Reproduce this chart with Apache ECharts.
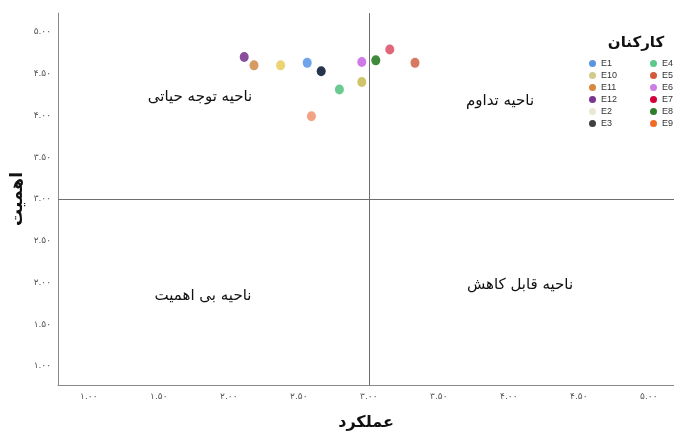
<!DOCTYPE html>
<html><head><meta charset="utf-8">
<script src="https://cdn.jsdelivr.net/npm/echarts@6/dist/echarts.min.js"></script>
<style>html,body{margin:0;padding:0;background:#fff}#c{width:674px;height:434px}</style>
</head><body><div id="c"></div>
<script>
// Employees (legend order)
const names = ['E1','E10','E11','E12','E2','E3','E4','E5','E6','E7','E8','E9'];
// Performance (x) and Importance (y)
const perf  = [2.56, 2.95, 2.18, 2.11, 2.37, 2.66, 2.79, 3.33, 2.95, 3.15, 3.05, 2.59];
const impo  = [4.63, 4.40, 4.60, 4.70, 4.60, 4.53, 4.31, 4.63, 4.64, 4.79, 4.66, 3.99];
const xTicks = [1, 1.5, 2, 2.5, 3, 3.5, 4, 4.5, 5];
const yTicks = [1, 1.5, 2, 2.5, 3, 3.5, 4, 4.5, 5];
const midX = 3, midY = 3;
const xTitle = 'عملکرد', yTitle = 'اهمیت', legendTitle = 'کارکنان';
const quadrants = ['ناحیه توجه حیاتی', 'ناحیه تداوم', 'ناحیه بی اهمیت', 'ناحیه قابل کاهش'];

const pointColors = ['#6fa6ea','#cfc46a','#d69a62','#8a4c9c','#ecd374','#26344e','#6acb90','#d87a62','#d07ae8','#e06679','#3f8a3c','#f3a383'];
const legendColors = ['#5b94e0','#d2c98a','#d4893c','#7a3590','#ece6d4','#3f3f3f','#5cc98a','#d25a3c','#cc7ee8','#d4003a','#2e7d2e','#f06a28'];

const fa = s => String(s).replace(/\d/g, d => '۰۱۲۳۴۵۶۷۸۹'[d]);
const FONT = 'DejaVu Sans';

const series = names.map((n, i) => ({
  name: n, type: 'scatter', symbol: 'circle', symbolSize: [9, 10],
  itemStyle: { color: pointColors[i], opacity: 1 },
  data: [[perf[i], impo[i]]], z: 3
}));
series.push({
  type: 'scatter', data: [], silent: true,
  markLine: {
    silent: true, symbol: 'none', label: { show: false },
    lineStyle: { color: '#6e6e6e', width: 1, type: 'solid' },
    data: [{ xAxis: midX }, { yAxis: midY }]
  }
});

const legendItem = (i) => ({ name: names[i], itemStyle: { color: legendColors[i] } });
const legendText = { fontFamily: 'Liberation Sans', fontSize: 9, color: '#333', width: 20, overflow: 'none' };

const qStyle = { fontFamily: FONT, fontSize: 15, fill: '#111', textAlign: 'center', textVerticalAlign: 'middle' };

const chart = echarts.init(document.getElementById('c'), null, { renderer: 'canvas' });
chart.setOption({
  animation: false,
  backgroundColor: '#fff',
  grid: { left: 58, right: 0, top: 13, bottom: 49, outerBoundsMode: 'none', containLabel: false },
  xAxis: {
    type: 'value', min: 0.78, max: 5.18,
    name: xTitle, nameLocation: 'middle', nameGap: 30,
    nameTextStyle: { fontFamily: FONT, fontSize: 16, fontWeight: 'bold', color: '#111' },
    axisLine: { show: true, lineStyle: { color: '#8a8a8a', width: 1 } },
    axisTick: { show: false }, splitLine: { show: false },
    axisLabel: { customValues: xTicks, formatter: v => fa(v.toFixed(2)), fontFamily: FONT, fontSize: 9, color: '#555', margin: 7 }
  },
  yAxis: {
    type: 'value', min: 0.773, max: 5.227,
    name: yTitle, nameLocation: 'middle', nameGap: 32, nameRotate: 90, nameMoveOverlap: false,
    nameTextStyle: { fontFamily: FONT, fontSize: 17, fontWeight: 'bold', color: '#111' },
    axisLine: { show: true, lineStyle: { color: '#8a8a8a', width: 1 } },
    axisTick: { show: false }, splitLine: { show: false },
    axisLabel: { customValues: yTicks, formatter: v => fa(v.toFixed(2)), fontFamily: FONT, fontSize: 9, color: '#555', margin: 7 }
  },
  legend: [
    { orient: 'vertical', left: 589, top: 59, padding: 0, icon: 'circle', itemWidth: 7, itemHeight: 7, itemGap: 3,
      textStyle: legendText, data: [0,1,2,3,4,5].map(legendItem), selectedMode: false },
    { orient: 'vertical', left: 650, top: 59, padding: 0, icon: 'circle', itemWidth: 7, itemHeight: 7, itemGap: 3,
      textStyle: legendText, data: [6,7,8,9,10,11].map(legendItem), selectedMode: false }
  ],
  graphic: [
    { type: 'text', style: Object.assign({}, qStyle, { text: legendTitle, fontSize: 15, fontWeight: 'bold', x: 636, y: 43 }) },
    { type: 'text', style: Object.assign({}, qStyle, { text: quadrants[0], x: 200, y: 97 }) },
    { type: 'text', style: Object.assign({}, qStyle, { text: quadrants[1], x: 500, y: 101 }) },
    { type: 'text', style: Object.assign({}, qStyle, { text: quadrants[2], x: 203, y: 296 }) },
    { type: 'text', style: Object.assign({}, qStyle, { text: quadrants[3], x: 520, y: 285 }) }
  ],
  series: series
});
</script></body></html>
